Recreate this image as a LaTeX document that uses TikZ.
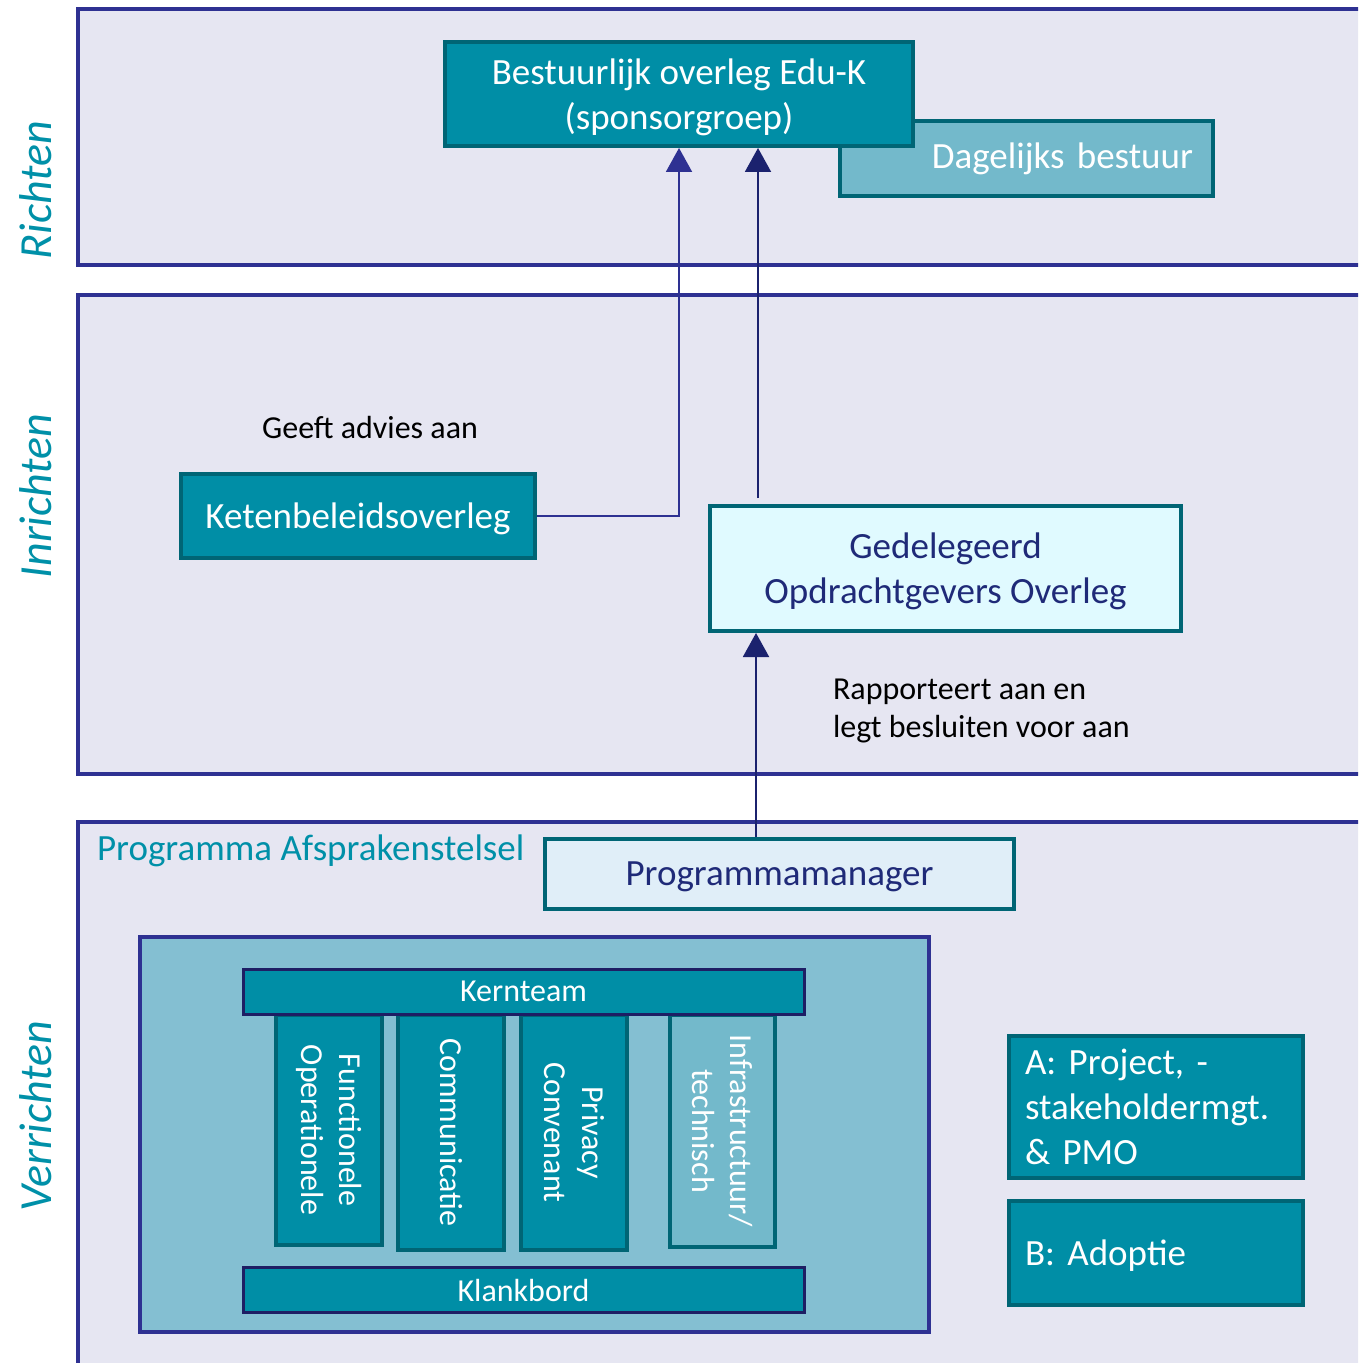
\documentclass[tikz,border=0pt]{standalone}
\usepackage{fontspec}
\setmainfont{Carlito}
\usetikzlibrary{positioning,arrows.meta,calc}
\frenchspacing

\definecolor{bandfill}{RGB}{230,230,242}
\definecolor{bandline}{RGB}{46,49,146}
\definecolor{tealfill}{RGB}{0,142,166}
\definecolor{tealline}{RGB}{0,101,117}
\definecolor{lightteal}{RGB}{115,185,203}
\definecolor{innerfill}{RGB}{132,191,210}
\definecolor{godofill}{RGB}{224,250,255}
\definecolor{pmfill}{RGB}{224,238,248}
\definecolor{navytext}{RGB}{31,42,120}
\definecolor{kernline}{RGB}{30,30,100}
\definecolor{labelteal}{RGB}{0,144,168}
\definecolor{arrowone}{RGB}{46,49,146}
\definecolor{arrowtwo}{RGB}{27,34,110}

\newcommand{\bigfont}{\fontsize{18.5}{22.5}\selectfont}
\newcommand{\smallfont}{\fontsize{16}{19}\selectfont}

\tikzset{
  band/.style={draw=bandline, fill=bandfill, line width=2pt},
  bandlabel/.style={rotate=90, text=labelteal, font=\fontsize{23}{27}\selectfont\itshape},
  tealbox/.style={draw=tealline, fill=tealfill, line width=2pt, text=white, font=\bigfont, align=center, inner sep=0pt},
  lightbox/.style={draw=tealline, line width=2pt, text=navytext, font=\bigfont, align=center, inner sep=0pt},
  lowtext/.style={text depth=0pt},
  bar/.style={draw=kernline, fill=tealfill, line width=1.5pt, text=white, font=\smallfont, inner sep=0pt,
    minimum width=280.5pt, minimum height=22.5pt},
  column/.style={draw=tealline, fill=tealfill, line width=2pt, text=white, font=\smallfont, align=center,
    inner sep=0pt, minimum width=53pt},
  colname/.style={rotate=-90, text=white, font=\smallfont, align=center},
  arr/.style={line width=1pt, -{Triangle[width=13pt,length=12pt]}},
}

\begin{document}
\begin{tikzpicture}[x=0.5pt, y=-0.5pt]
  \useasboundingbox (0,0) rectangle (1358,1363);
  \clip (0,0) rectangle (1358,1363);

  % bands
  \draw[band] (78,9) rectangle (1380,265);
  \draw[band] (78,295) rectangle (1380,774);
  \draw[band] (78,822) rectangle (1380,1400);

  \node[bandlabel] (richten) at (36,190) {Richten};
  \node[bandlabel] (inrichten) at (36,496) {Inrichten};
  \node[bandlabel] (verrichten) at (36,1116) {Verrichten};

  % richten
  \node[tealbox, fill=lightteal, minimum width=186.5pt, minimum height=37.5pt, align=right,
    text width=166.5pt, inner xsep=10pt] (dagelijks) at (1026.5,159) {Dagelijks bestuur};
  \node[tealbox, lowtext, minimum width=234pt, minimum height=52pt] (bestuur) at (679,94)
    {Bestuurlijk overleg Edu-K\\(sponsorgroep)};

  % inrichten
  \node[font=\smallfont] (advies) at (370,428) {Geeft advies aan};
  \node[tealbox, lowtext, minimum width=177pt, minimum height=42pt] (keten) at (358,516) {Ketenbeleidsoverleg};
  \node[lightbox, lowtext, fill=godofill, minimum width=235.5pt, minimum height=62.5pt] (godo) at (945.5,568.5)
    {Gedelegeerd\\Opdrachtgevers Overleg};
  \node[font=\smallfont, align=left, anchor=west] (rapport) at (826,711)
    {Rapporteert aan en\\legt besluiten voor aan};

  % verrichten
  \node[text=labelteal, font=\bigfont, anchor=west] (programma) at (90,851) {Programma Afsprakenstelsel};
  \node[lightbox, lowtext, fill=pmfill, minimum width=234.5pt, minimum height=35pt] (pm) at (779.5,874) {Programmamanager};

  \draw[draw=bandline, fill=innerfill, line width=2pt] (140,937) rectangle (929,1332);

  \node[column, minimum height=115pt] (col1) at (329,1130) {};
  \node[column, minimum height=117.5pt] (col2) at (451,1132.5) {};
  \node[column, minimum height=117.5pt] (col3) at (574,1132.5) {};
  \node[column, fill=lightteal, minimum width=52.5pt, minimum height=116pt] (col4) at (722.5,1131) {};
  \node[colname] at (col1) {Functionele\\Operationele};
  \node[colname] at (col2) {Communicatie};
  \node[colname] at (col3) {Privacy\\Convenant};
  \node[colname] at (col4) {Infrastructuur/\\technisch};

  \node[bar, lowtext] (kern) at (523.5,991.5) {Kernteam};
  \node[bar, lowtext] (klank) at (523.5,1290) {Klankbord};

  \node[tealbox, minimum width=147pt, minimum height=71pt, align=left, text width=131pt] (boxa) at (1156,1107)
    {A:\ Project, -\\stakeholdermgt.\\\& PMO};
  \node[tealbox, lowtext, minimum width=147pt, minimum height=52pt, align=left, text width=131pt] (boxb) at (1156,1253)
    {B:\ Adoptie};

  % connectors
  \draw[arr, arrowone] (keten.east) -| (bestuur.south);
  \coordinate (godotop) at ([xshift=25pt, yshift=3pt]godo.north west);
  \draw[arr, arrowtwo] (godotop) -- (godotop |- bestuur.south);
  \coordinate (godobot) at ([xshift=24pt]godo.south west);
  \draw[arr, arrowtwo] (pm.north -| godobot) -- (godobot);
\end{tikzpicture}
\end{document}
